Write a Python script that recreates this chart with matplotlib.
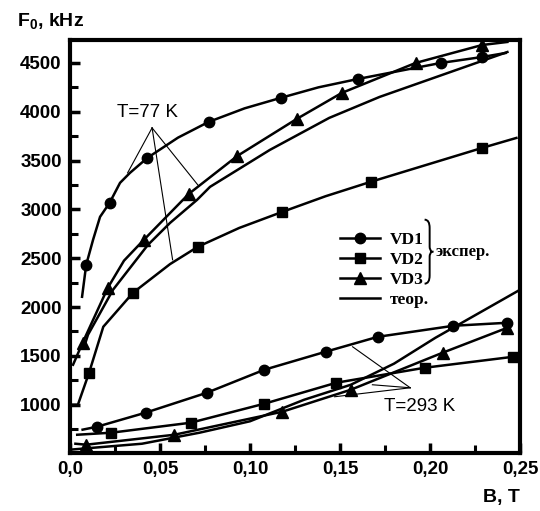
import numpy as np
import matplotlib
matplotlib.use("Agg")
import matplotlib.pyplot as plt
from matplotlib.lines import Line2D
from matplotlib.path import Path
from matplotlib.patches import PathPatch
from matplotlib.ticker import MultipleLocator, FuncFormatter

# ---- T = 77 K ----------------------------------------------------------
# markers (experiment) and the hand-read vertices of the curve through them
VD1_77_B = [0.009, 0.022, 0.043, 0.077, 0.117, 0.160, 0.206, 0.229]
VD1_77_F = [2433, 3067, 3528, 3896, 4142, 4336, 4500, 4561]
VD1_77_CB = [0.0067, 0.009, 0.0128, 0.0167, 0.022, 0.0278, 0.0333, 0.043, 0.060, 0.077,
             0.097, 0.117, 0.138, 0.160, 0.206, 0.229, 0.242]
VD1_77_CF = [2105, 2433, 2688, 2924, 3067, 3272, 3374, 3528, 3735, 3896,
             4035, 4142, 4250, 4336, 4500, 4561, 4602]

VD2_77_B = [0.0106, 0.035, 0.071, 0.118, 0.167, 0.229]
VD2_77_F = [1327, 2146, 2617, 2975, 3282, 3630]
VD2_77_CB = [0.0, 0.0044, 0.0106, 0.0185, 0.035, 0.0556, 0.071, 0.094, 0.118, 0.142,
             0.167, 0.229, 0.248]
VD2_77_CF = [1000, 1000, 1327, 1798, 2146, 2440, 2617, 2810, 2975, 3135,
             3282, 3630, 3732]

VD3_77_B = [0.007, 0.021, 0.041, 0.066, 0.093, 0.126, 0.151, 0.192, 0.229]
VD3_77_F = [1634, 2197, 2688, 3159, 3548, 3927, 4193, 4500, 4684]
VD3_77_CB = [0.0017, 0.007, 0.021, 0.030, 0.041, 0.066, 0.093, 0.126, 0.151, 0.192,
             0.229, 0.243]
VD3_77_CF = [1409, 1634, 2197, 2475, 2688, 3159, 3548, 3927, 4193, 4500,
             4684, 4715]

THEO_77_B = [0.008, 0.010, 0.0239, 0.0433, 0.0556, 0.0706, 0.0778, 0.111, 0.144,
             0.172, 0.243]
THEO_77_F = [1600, 1716, 2177, 2637, 2862, 3098, 3231, 3609, 3937, 4152, 4612]

# ---- T = 293 K ---------------------------------------------------------
VD1_293_B = [0.015, 0.042, 0.076, 0.108, 0.142, 0.171, 0.213, 0.243]
VD1_293_F = [774, 918, 1122, 1358, 1542, 1695, 1808, 1839]
VD1_293_START = (0.007, 744)

VD2_293_B = [0.023, 0.067, 0.108, 0.148, 0.197, 0.246]
VD2_293_F = [713, 815, 1010, 1225, 1378, 1490]
VD2_293_START = (0.004, 692)

VD3_293_B = [0.009, 0.058, 0.118, 0.156, 0.207, 0.243]
VD3_293_F = [590, 692, 928, 1153, 1532, 1788]
VD3_293_START = (0.003, 600)

THEO_293_B = [0.0, 0.04, 0.072, 0.10, 0.13, 0.156, 0.18, 0.203, 0.25]
THEO_293_F = [539, 600, 713, 830, 1050, 1204, 1420, 1685, 2177]

# annotation pointers: apex then targets
APEX_77 = (0.0456, 3835)
TARGETS_77 = [(0.032, 3374), (0.071, 3251), (0.057, 2484)]
APEX_293 = (0.189, 1173)
TARGETS_293 = [(0.157, 1593), (0.168, 1204), (0.147, 1081)]

XTICKS = [0.0, 0.05, 0.10, 0.15, 0.20, 0.25]
YTICKS = [1000, 1500, 2000, 2500, 3000, 3500, 4000, 4500]

SANS = "Liberation Sans"
SERIF = "Liberation Serif"
LW = 1.8

fig = plt.figure(figsize=(5.4, 5.11), dpi=100)
ax = fig.add_axes([70 / 540, 58 / 511, 450 / 540, 413 / 511])


def exp_curve(cb, cf, mb, mf, marker, ms):
    ax.plot(cb, cf, color="black", lw=LW, zorder=3, solid_joinstyle="round")
    ax.plot(mb, mf, linestyle="none", marker=marker, ms=ms, color="black", zorder=4)


exp_curve(VD1_77_CB, VD1_77_CF, VD1_77_B, VD1_77_F, "o", 7.5)
exp_curve(VD2_77_CB, VD2_77_CF, VD2_77_B, VD2_77_F, "s", 7.5)
exp_curve(VD3_77_CB, VD3_77_CF, VD3_77_B, VD3_77_F, "^", 9)
ax.plot(THEO_77_B, THEO_77_F, color="black", lw=LW, zorder=3, solid_joinstyle="round")

exp_curve([VD1_293_START[0]] + VD1_293_B, [VD1_293_START[1]] + VD1_293_F,
          VD1_293_B, VD1_293_F, "o", 7.5)
exp_curve([VD2_293_START[0]] + VD2_293_B, [VD2_293_START[1]] + VD2_293_F,
          VD2_293_B, VD2_293_F, "s", 7.5)
exp_curve([VD3_293_START[0]] + VD3_293_B, [VD3_293_START[1]] + VD3_293_F,
          VD3_293_B, VD3_293_F, "^", 9)
ax.plot(THEO_293_B, THEO_293_F, color="black", lw=LW, zorder=3, solid_joinstyle="round")

for apex, targets in ((APEX_77, TARGETS_77), (APEX_293, TARGETS_293)):
    for tb, tf in targets:
        ax.plot([apex[0], tb], [apex[1], tf], color="black", lw=0.8, zorder=2)

ax.text(0.043, 3988, "T=77 K", fontsize=13.5, family=SANS, ha="center", va="center")
ax.text(0.194, 979, "T=293 K", fontsize=13.5, family=SANS, ha="center", va="center")

# axes
ax.set_xlim(0, 0.25)
ax.set_ylim(505, 4735)
ax.set_xticks(XTICKS)
ax.set_yticks(YTICKS)
ax.xaxis.set_minor_locator(MultipleLocator(0.025))
ax.yaxis.set_minor_locator(MultipleLocator(250))
ax.xaxis.set_major_formatter(FuncFormatter(
    lambda v, p: "0,0" if abs(v) < 1e-9 else f"{v:.2f}".replace(".", ",")))
ax.tick_params(which="both", direction="in", top=False, right=False,
               labelsize=13.5, pad=6)
ax.tick_params(which="major", length=7, width=2.5)
ax.tick_params(which="minor", length=6, width=2.2)
for lab in ax.get_xticklabels() + ax.get_yticklabels():
    lab.set_family(SANS)
    lab.set_fontweight("bold")
for s in ax.spines.values():
    s.set_linewidth(3)

fig.text(17 / 540, 1 - 22 / 511, "F$_\\mathregular{0}$, kHz", fontsize=14,
         family=SANS, fontweight="bold", ha="left", va="center")
fig.text(520 / 540, 1 - 497 / 511, "B, T", fontsize=14, family=SANS,
         fontweight="bold", ha="right", va="center")

# legend
handles = [
    Line2D([], [], color="black", lw=LW, marker="o", ms=7.5),
    Line2D([], [], color="black", lw=LW, marker="s", ms=7.5),
    Line2D([], [], color="black", lw=LW, marker="^", ms=9),
    Line2D([], [], color="black", lw=LW),
]
leg = ax.legend(handles, ["VD1", "VD2", "VD3", "теор."], loc="upper left",
                bbox_to_anchor=(0.58, 0.557), frameon=False, borderpad=0,
                handlelength=2.3, handletextpad=0.6, labelspacing=0.22,
                prop={"family": SERIF, "weight": "bold", "size": 12.5})

# brace for the experimental entries (axes fraction coordinates)
bx, by0, by1, bw = 0.788, 0.41, 0.565, 0.016
bm = 0.5 * (by0 + by1)
verts = [(bx, by1), (bx + bw * 0.7, by1), (bx + bw * 0.7, by1 - 0.02),
         (bx + bw * 0.7, bm + 0.012),
         (bx + bw * 0.7, bm + 0.004), (bx + bw, bm), (bx + bw * 1.25, bm),
         (bx + bw, bm), (bx + bw * 0.7, bm - 0.004), (bx + bw * 0.7, bm - 0.012),
         (bx + bw * 0.7, by0 + 0.02), (bx + bw * 0.7, by0), (bx, by0)]
codes = [Path.MOVETO, Path.CURVE3, Path.CURVE3, Path.LINETO,
         Path.CURVE3, Path.CURVE3, Path.LINETO,
         Path.MOVETO, Path.CURVE3, Path.CURVE3, Path.LINETO,
         Path.CURVE3, Path.CURVE3]
ax.add_patch(PathPatch(Path(verts, codes), transform=ax.transAxes, fill=False,
                       lw=1.4, color="black"))
ax.text(0.813, bm, "экспер.", transform=ax.transAxes, family=SERIF,
        fontweight="bold", fontsize=12, ha="left", va="center")

fig.savefig("out.png", dpi=100)
